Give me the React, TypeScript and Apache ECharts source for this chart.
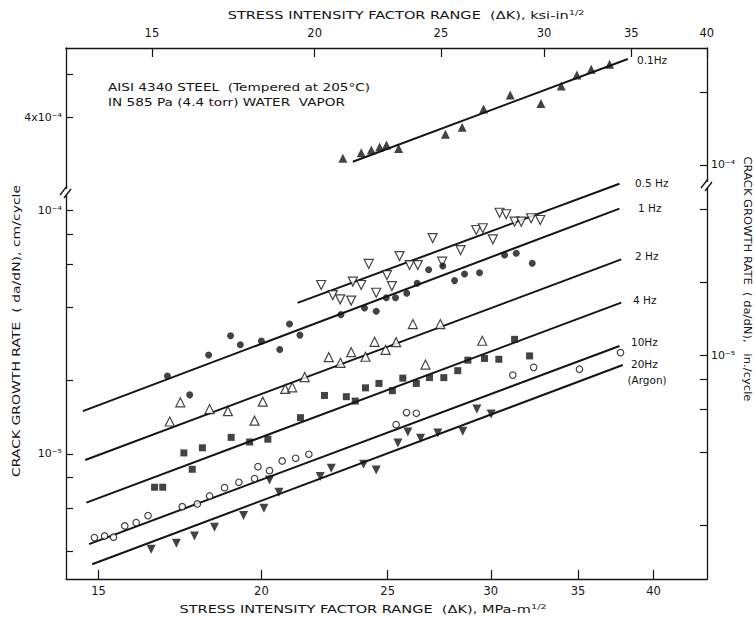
import React, { useEffect, useRef } from "react";
import * as echarts from "echarts";

// ---------- axis ranges (data units) ----------
const MPA_PER_KSI = 1.0988; // 1 ksi·in^1/2 = 1.0988 MPa·m^1/2
const CM_PER_IN = 2.54;
const KSI_MAX = 40.01;
const K_MAX = KSI_MAX * MPA_PER_KSI; // MPa·m^1/2
const K_MIN = 14.16;
const RATE_UPPER = [2.043e-4, 7.686e-4]; // cm/cycle, upper (broken) panel
const RATE_LOWER = [3.062e-6, 1.2398e-4]; // cm/cycle, lower panel

// ---------- tick values ----------
const kTicks = [15, 20, 25, 30, 35, 40]; // MPa·m^1/2 (bottom)
const ksiTicks = [15, 20, 25, 30, 35, 40]; // ksi·in^1/2 (top)
const upperCmTicks = [4e-4, 6e-4];
const upperCmLabels = [4e-4];
const upperInTicks = [1e-4, 2e-4];
const upperInLabels = [1e-4];
const lowerCmTicks = [4e-6, 6e-6, 8e-6, 1e-5, 2e-5, 4e-5, 6e-5, 8e-5, 1e-4];
const lowerCmLabels = [1e-5, 1e-4];
const lowerInTicks = [2e-6, 4e-6, 6e-6, 8e-6, 1e-5, 2e-5, 4e-5];
const lowerInLabels = [1e-5];

// ---------- data: [ΔK (MPa·m^1/2), da/dN (cm/cycle)] ----------
const pts01Hz = [
  [23.1, 2.71e-4], [23.86, 2.85e-4], [24.29, 2.93e-4], [24.65, 3.01e-4], [24.95, 3.07e-4],
  [25.49, 2.97e-4], [27.69, 3.4e-4], [28.52, 3.63e-4], [29.62, 4.32e-4], [31.05, 4.93e-4],
  [32.78, 4.55e-4], [33.98, 5.36e-4], [34.93, 5.95e-4], [35.83, 6.28e-4], [37.01, 6.59e-4],
];
const pts05Hz = [
  [22.23, 4.95e-5], [22.69, 4.5e-5], [22.99, 4.32e-5], [23.44, 4.27e-5], [23.51, 5.11e-5],
  [23.86, 4.95e-5], [24.18, 6.04e-5], [24.5, 4.6e-5], [24.97, 5.44e-5], [25.19, 4.9e-5],
  [25.53, 6.51e-5], [25.99, 5.98e-5], [26.37, 5.98e-5], [27.07, 7.72e-5], [27.53, 6.17e-5],
  [28.44, 6.89e-5], [29.24, 8.33e-5], [29.58, 8.47e-5], [30.11, 7.63e-5], [30.47, 9.81e-5],
  [30.83, 9.67e-5], [31.29, 9.01e-5], [31.66, 9.01e-5], [32.22, 9.31e-5], [32.74, 9.16e-5],
];
const pts1Hz = [
  [16.94, 2.09e-5], [17.62, 1.75e-5], [18.22, 2.55e-5], [18.94, 3.06e-5], [19.27, 2.81e-5],
  [20.0, 2.91e-5], [20.66, 2.69e-5], [21.02, 3.42e-5], [21.41, 3.08e-5], [23.02, 3.74e-5],
  [24.0, 3.98e-5], [24.5, 3.86e-5], [24.94, 4.39e-5], [25.35, 4.39e-5], [25.86, 4.58e-5],
  [26.34, 5.03e-5], [26.88, 5.72e-5], [27.56, 5.93e-5], [28.14, 5.16e-5], [28.64, 5.49e-5],
  [29.41, 5.56e-5], [30.74, 6.58e-5], [31.38, 6.68e-5], [32.28, 6.08e-5],
];
const pts2Hz = [
  [17.01, 1.36e-5], [17.33, 1.63e-5], [18.25, 1.53e-5], [18.85, 1.5e-5], [19.76, 1.37e-5],
  [20.05, 1.64e-5], [20.86, 1.85e-5], [21.12, 1.88e-5], [21.59, 2.07e-5], [22.53, 2.5e-5],
  [23.0, 2.37e-5], [23.44, 2.62e-5], [24.04, 2.51e-5], [24.43, 2.89e-5], [24.91, 2.68e-5],
  [25.38, 2.88e-5], [26.14, 3.42e-5], [26.73, 2.33e-5], [27.44, 3.42e-5], [29.55, 2.92e-5],
];
const pts4Hz = [
  [16.56, 7.3e-6], [16.8, 7.3e-6], [17.44, 1.01e-5], [17.7, 8.65e-6], [18.02, 1.06e-5],
  [18.96, 1.17e-5], [19.59, 1.12e-5], [20.23, 1.15e-5], [21.43, 1.41e-5], [22.36, 1.74e-5],
  [23.24, 1.72e-5], [23.61, 1.65e-5], [24.04, 1.87e-5], [24.62, 1.95e-5], [25.21, 1.82e-5],
  [25.68, 2.05e-5], [26.3, 1.95e-5], [26.92, 2.06e-5], [27.61, 2.06e-5], [28.3, 2.2e-5],
  [28.81, 2.43e-5], [29.67, 2.47e-5], [30.43, 2.45e-5], [31.29, 2.96e-5], [32.13, 2.53e-5],
];
const pts10Hz = [
  [14.89, 4.53e-6], [15.16, 4.6e-6], [15.4, 4.55e-6], [15.71, 5.06e-6], [16.03, 5.22e-6],
  [16.37, 5.58e-6], [17.39, 6.07e-6], [17.86, 6.23e-6], [18.25, 6.72e-6], [18.74, 7.27e-6],
  [19.22, 7.65e-6], [19.76, 7.92e-6], [19.88, 8.87e-6], [20.29, 8.54e-6], [20.75, 9.36e-6],
  [21.25, 9.6e-6], [21.75, 9.97e-6], [25.38, 1.32e-5], [25.85, 1.48e-5], [26.3, 1.47e-5],
  [31.19, 2.11e-5], [32.36, 2.27e-5], [35.09, 2.23e-5], [37.73, 2.61e-5],
];
const pts20Hz = [
  [16.46, 4.06e-6], [17.21, 4.3e-6], [17.77, 4.6e-6], [18.41, 5.0e-6], [19.38, 5.58e-6],
  [20.09, 5.98e-6], [20.29, 7.82e-6], [20.63, 6.96e-6], [22.19, 8.07e-6], [22.63, 8.73e-6],
  [23.96, 9.07e-6], [24.5, 8.6e-6], [25.46, 1.11e-5], [25.91, 1.23e-5], [26.5, 1.16e-5],
  [27.32, 1.22e-5], [28.55, 1.24e-5], [29.27, 1.53e-5], [30.02, 1.46e-5],
];

// fitted lines (end points)
const fit01Hz = [[23.51, 2.62e-4], [38.22, 6.93e-4]];
const fit05Hz = [[21.32, 4.18e-5], [37.66, 1.29e-4]];
const fit1Hz = [[14.59, 1.5e-5], [37.66, 1.02e-4]];
const fit2Hz = [[14.65, 9.45e-6], [37.78, 6.31e-5]];
const fit4Hz = [[14.68, 6.31e-6], [37.78, 4.19e-5]];
const fit10Hz = [[14.75, 4.26e-6], [37.66, 2.78e-5]];
const fit20Hz = [[14.83, 3.52e-6], [37.88, 2.32e-5]];

// ---------- helpers ----------
const FONT = "DejaVu Sans";
const INK = "#141414";
const lg = Math.log10;
const toXY = (p: number[]) => [lg(p[0]), lg(p[1])];
const SUP: Record<string, string> = {
  "-": "⁻", "0": "⁰", "1": "¹", "2": "²", "3": "³", "4": "⁴",
  "5": "⁵", "6": "⁶", "7": "⁷", "8": "⁸", "9": "⁹",
};
function powLabel(v: number) {
  const e = Math.floor(Math.log10(v) + 1e-9);
  const m = Math.round(v / Math.pow(10, e));
  const ex = String(e).split("").map((c) => SUP[c]).join("");
  return (m === 1 ? "" : m + "x") + "10" + ex;
}

const axisLine = { show: true, onZero: false, lineStyle: { color: INK, width: 1.3 } };

function xAxisCfg(grid: number, pos: string, lo: number, hi: number, ticks: number[], show: boolean, margin: number) {
  return {
    type: "value",
    gridIndex: grid,
    position: pos,
    min: lg(lo),
    max: lg(hi),
    show,
    axisLine,
    splitLine: { show: false },
    axisTick: { show: true, inside: true, length: 9, customValues: ticks.map(lg), lineStyle: { color: INK, width: 1.2 } },
    axisLabel: {
      show: true,
      customValues: ticks.map(lg),
      formatter: (v: number) => String(Math.round(Math.pow(10, v))),
      margin,
      fontSize: 11.5,
      fontFamily: FONT,
      color: INK,
    },
  };
}

function yAxisCfg(grid: number, pos: string, lo: number, hi: number, ticks: number[], labels: number[]) {
  return {
    type: "value",
    gridIndex: grid,
    position: pos,
    min: lg(lo),
    max: lg(hi),
    axisLine,
    splitLine: { show: false },
    axisTick: { show: true, inside: true, length: 7, customValues: ticks.map(lg), lineStyle: { color: INK, width: 1.2 } },
    axisLabel: {
      show: true,
      customValues: labels.map(lg),
      formatter: (v: number) => powLabel(Math.pow(10, v)),
      margin: 4,
      fontSize: 11,
      fontFamily: FONT,
      color: INK,
    },
  };
}

function fitSeries(name: string, data: number[][], xi: number, yi: number) {
  return {
    name,
    type: "line",
    xAxisIndex: xi,
    yAxisIndex: yi,
    data: data.map(toXY),
    symbol: "none",
    clip: false,
    silent: true,
    lineStyle: { color: INK, width: 2 },
    z: 2,
  };
}

function pointSeries(name: string, data: number[][], xi: number, yi: number, symbol: string, size: number, filled: boolean, rotate = 0) {
  return {
    name,
    type: "scatter",
    xAxisIndex: xi,
    yAxisIndex: yi,
    data: data.map(toXY),
    symbol,
    symbolSize: size,
    symbolRotate: rotate,
    clip: false,
    itemStyle: filled
      ? { color: INK }
      : { color: "#fff", borderColor: INK, borderWidth: 1.2 },
    z: 3,
  };
}

const supRich = {
  s: { fontSize: 7.5, fontFamily: FONT, fill: INK, verticalAlign: "top", lineHeight: 8 },
};

function txt(text: string, x: number, y: number, o: any = {}) {
  return {
    type: "text",
    x,
    y,
    rotation: o.rotation || 0,
    scaleX: o.scaleX || 1,
    z: 50,
    silent: true,
    style: {
      text,
      fontSize: o.size || 11,
      fontFamily: FONT,
      fill: INK,
      align: o.align || "left",
      textAlign: o.align || "left",
      verticalAlign: "middle",
      textVerticalAlign: "middle",
      lineHeight: o.lineHeight || 14,
      rich: o.rich,
    },
  };
}

function breakMark(cx: number, cy: number) {
  return [
    { type: "rect", z: 40, silent: true, shape: { x: cx - 3, y: cy - 3, width: 6, height: 6 }, style: { fill: "#fff" } },
    { type: "line", z: 41, silent: true, shape: { x1: cx - 6, y1: cy + 3, x2: cx + 1, y2: cy - 6 }, style: { stroke: INK, lineWidth: 1.3 } },
    { type: "line", z: 41, silent: true, shape: { x1: cx - 2, y1: cy + 6, x2: cx + 5, y2: cy - 3 }, style: { stroke: INK, lineWidth: 1.3 } },
  ];
}

const option: any = {
  animation: false,
  backgroundColor: "#fff",
  textStyle: { fontFamily: FONT },
  grid: [
    { left: 66, right: 48, top: 48, height: 140 },
    { left: 66, right: 48, top: 188, height: 391 },
  ],
  xAxis: [
    xAxisCfg(0, "bottom", K_MIN, K_MAX, kTicks, false, 4),
    xAxisCfg(0, "top", K_MIN / MPA_PER_KSI, KSI_MAX, ksiTicks, true, 9),
    xAxisCfg(1, "bottom", K_MIN, K_MAX, kTicks, true, 6),
  ],
  yAxis: [
    yAxisCfg(0, "left", RATE_UPPER[0], RATE_UPPER[1], upperCmTicks, upperCmLabels),
    yAxisCfg(0, "right", RATE_UPPER[0] / CM_PER_IN, RATE_UPPER[1] / CM_PER_IN, upperInTicks, upperInLabels),
    yAxisCfg(1, "left", RATE_LOWER[0], RATE_LOWER[1], lowerCmTicks, lowerCmLabels),
    yAxisCfg(1, "right", RATE_LOWER[0] / CM_PER_IN, RATE_LOWER[1] / CM_PER_IN, lowerInTicks, lowerInLabels),
  ],
  series: [
    fitSeries("0.1Hz fit", fit01Hz, 0, 0),
    fitSeries("0.5Hz fit", fit05Hz, 2, 2),
    fitSeries("1Hz fit", fit1Hz, 2, 2),
    fitSeries("2Hz fit", fit2Hz, 2, 2),
    fitSeries("4Hz fit", fit4Hz, 2, 2),
    fitSeries("10Hz fit", fit10Hz, 2, 2),
    fitSeries("20Hz fit", fit20Hz, 2, 2),
    pointSeries("0.1Hz", pts01Hz, 0, 0, "triangle", 9, true),
    pointSeries("0.5Hz", pts05Hz, 2, 2, "triangle", 9, false, 180),
    pointSeries("1Hz", pts1Hz, 2, 2, "circle", 7, true),
    pointSeries("2Hz", pts2Hz, 2, 2, "triangle", 9, false),
    pointSeries("4Hz", pts4Hz, 2, 2, "rect", 7, true),
    pointSeries("10Hz", pts10Hz, 2, 2, "circle", 6.5, false),
    pointSeries("20Hz", pts20Hz, 2, 2, "triangle", 9, true, 180),
  ],
  graphic: {
    elements: [
      txt("STRESS INTENSITY FACTOR RANGE  (ΔK), ksi-in{s|1/2}", 406, 15, { align: "center", size: 11.2, scaleX: 1.3, rich: supRich }),
      txt("STRESS INTENSITY FACTOR RANGE  (ΔK), MPa-m{s|1/2}", 363, 609, { align: "center", size: 11.2, scaleX: 1.3, rich: supRich }),
      txt("CRACK GROWTH RATE  ( da/dN), cm/cycle", 16, 331, { align: "center", size: 11.2, scaleX: 1.25, rotation: Math.PI / 2 }),
      txt("CRACK GROWTH RATE  ( da/dN),   in./cycle", 748, 279, { align: "center", size: 11.2, scaleX: 1.03, rotation: -Math.PI / 2 }),
      txt("AISI 4340 STEEL  (Tempered at 205°C)", 108, 88, { size: 10.5, scaleX: 1.3 }),
      txt("IN 585 Pa (4.4 torr) WATER  VAPOR", 108, 103, { size: 10.5, scaleX: 1.3 }),
      txt("0.1Hz", 637, 60, { size: 10.5 }),
      txt("0.5 Hz", 635, 183, { size: 10.5 }),
      txt("1 Hz", 638, 208, { size: 10.5 }),
      txt("2 Hz", 635, 256, { size: 10.5 }),
      txt("4 Hz", 633, 300, { size: 10.5 }),
      txt("10Hz", 631, 342, { size: 10.5 }),
      txt("20Hz", 631, 364, { size: 10.5 }),
      txt("(Argon)", 647, 380, { size: 10.5, align: "center" }),
      ...breakMark(66, 192),
      ...breakMark(707, 185),
    ],
  },
};

export default function App() {
  const ref = useRef<HTMLDivElement>(null);
  useEffect(() => {
    document.body.style.margin = "0";
    const chart = echarts.init(ref.current as HTMLDivElement, null, { renderer: "svg" });
    chart.setOption(option);
    return () => chart.dispose();
  }, []);
  return (
    <div
      ref={ref}
      style={{ position: "fixed", left: 0, top: 0, width: 755, height: 617, background: "#fff" }}
    />
  );
}
